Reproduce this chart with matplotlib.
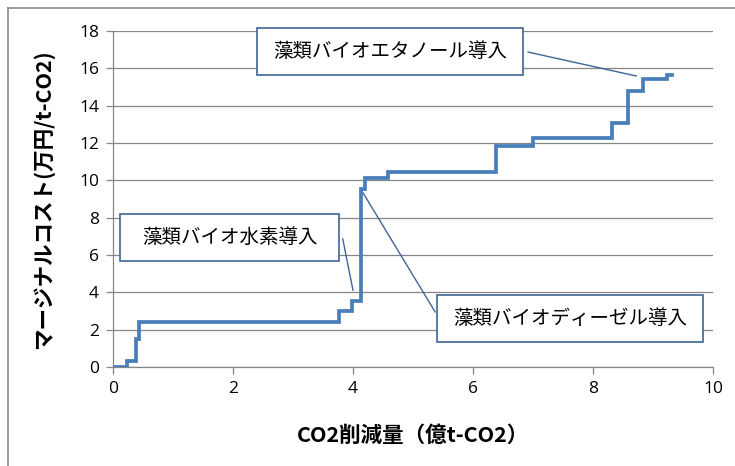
import matplotlib
matplotlib.use('Agg')
import matplotlib.pyplot as plt
from matplotlib.lines import Line2D
from matplotlib.patches import Rectangle

# ---------- data ---------- #
reduction = [0, 0.23, 0.39, 0.44, 3.77, 3.98, 4.14, 4.20, 4.58,
             6.39, 7.00, 8.32, 8.58, 8.83, 9.23, 9.32]
cost = [0, 0.32, 1.5, 2.4, 3.0, 3.53, 9.53, 10.1, 10.45,
        11.84, 12.27, 13.07, 14.78, 15.43, 15.64, 15.64]

x_ticks = [0, 2, 4, 6, 8, 10]
y_ticks = [0, 2, 4, 6, 8, 10, 12, 14, 16, 18]

labels = ['藻類バイオエタノール導入', '藻類バイオ水素導入', '藻類バイオディーゼル導入']

jp = ['Noto Sans CJK JP', 'DejaVu Sans']
plt.rcParams['font.family'] = jp

grey = '#868686'
line_blue = '#4a7ebb'
box_edge = '#3f6596'

fig = plt.figure(figsize=(7.35, 4.66), dpi=100)
ax = fig.add_axes([0.1537, 0.2124, 0.8163, 0.7211])

ax.step(reduction, cost, where='post', color=line_blue, lw=2.7,
        solid_joinstyle='miter', zorder=3)

ax.set_xlim(0, 10)
ax.set_ylim(0, 18)
ax.set_xticks(x_ticks)
ax.set_yticks(y_ticks)
ax.set_xticklabels([str(v) for v in x_ticks], family='Open Sans', fontsize=12.5)
ax.set_yticklabels([str(v) for v in y_ticks], family='Open Sans', fontsize=12.5)
ax.yaxis.grid(True, color=grey, lw=0.9)
ax.set_axisbelow(True)
for side in ['top', 'right']:
    ax.spines[side].set_visible(False)
for side in ['left', 'bottom']:
    ax.spines[side].set_color(grey)
    ax.spines[side].set_linewidth(0.9)
ax.tick_params(axis='both', color=grey, length=5, width=0.9,
               labelcolor='black', pad=5)

ax.set_xlabel('CO2削減量（億t-CO2）', fontsize=15.5, fontweight='bold',
              labelpad=20)
ax.set_ylabel('マージナルコスト(万円/t-CO2)', fontsize=15.5,
              fontweight='bold', labelpad=18)

# ---------- callouts: box (x0, x1, y0, y1) and leader line ---------- #
callouts = [((2.40, 6.83, 15.64, 18.16), (6.92, 16.87), (8.72, 15.59)),
            ((0.117, 3.77, 5.68, 8.19), (3.83, 6.86), (4.0, 4.12)),
            ((5.40, 9.83, 1.34, 3.86), (4.17, 9.32), (5.37, 2.95))]
for txt, (box, p0, p1) in zip(labels, callouts):
    x0, x1, y0, y1 = box
    ax.add_patch(Rectangle((x0, y0), x1 - x0, y1 - y0, fc='white',
                           ec=box_edge, lw=1.2, zorder=5, clip_on=False))
    ax.text((x0 + x1) / 2, (y0 + y1) / 2, txt, ha='center', va='center',
            fontsize=14, zorder=6, clip_on=False)
    ax.add_line(Line2D([p0[0], p1[0]], [p0[1], p1[1]], color=box_edge,
                       lw=1.0, zorder=4))

# ---------- outer chart frame (left and top edges) ---------- #
fig.add_artist(Line2D([8 / 735, 8 / 735], [0, 1 - 8 / 466],
                      color='#8c8c8c', lw=1.2))
fig.add_artist(Line2D([8 / 735, 1], [1 - 8 / 466, 1 - 8 / 466],
                      color='#8c8c8c', lw=1.2))

fig.savefig('out.png', dpi=100)
